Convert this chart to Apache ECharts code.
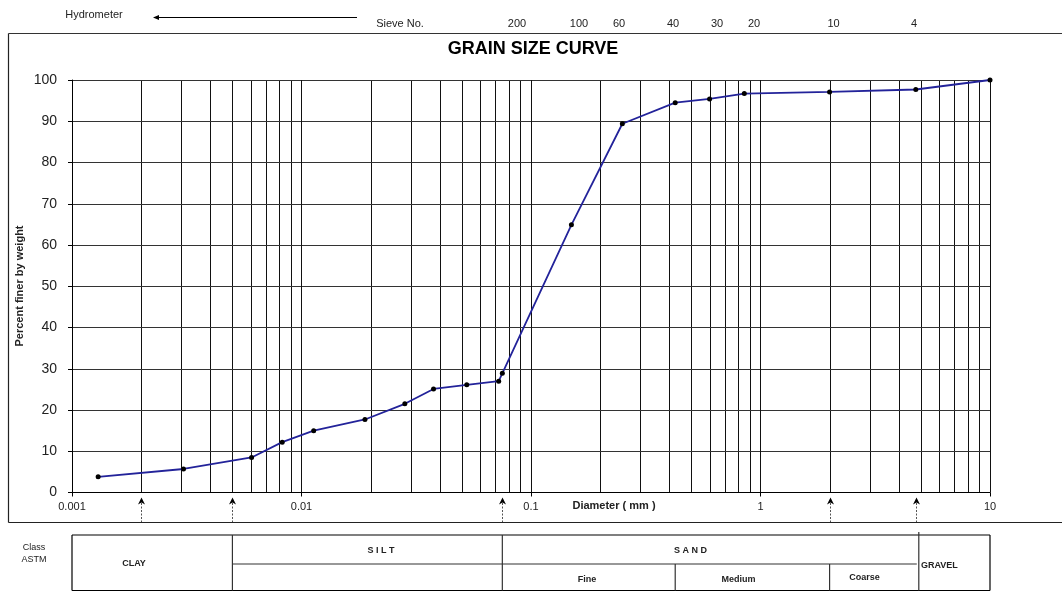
<!DOCTYPE html>
<html><head><meta charset="utf-8">
<script src="https://cdn.jsdelivr.net/npm/echarts@6/dist/echarts.min.js"></script>
<style>html,body{margin:0;padding:0;background:#fff}#c{width:1062px;height:592px}</style>
</head><body><div id="c"></div>
<script>
// ---- data ----
const diameters = [0.0013, 0.00306, 0.00606, 0.00824, 0.0113, 0.0189, 0.0282, 0.0376, 0.0525, 0.0723, 0.075, 0.15, 0.25, 0.425, 0.6, 0.85, 2.0, 4.75, 10];
const percentFiner = [3.8, 5.7, 8.5, 12.2, 15.0, 17.7, 21.5, 25.1, 26.1, 27.0, 28.9, 64.9, 89.4, 94.5, 95.4, 96.7, 97.1, 97.7, 100];
const xTickLabels = ['0.001', '0.01', '0.1', '1', '10'];
const yTickLabels = ['0', '10', '20', '30', '40', '50', '60', '70', '80', '90', '100'];
const sieveNumbers = ['200', '100', '60', '40', '30', '20', '10', '4'];
const arrowDiameters = [0.002, 0.005, 0.075, 2, 4.75];
const boundaryClaySilt = 0.005, boundarySiltSand = 0.075, boundaryFineMedium = 0.425, boundaryMediumCoarse = 2, boundarySandGravel = 4.75;

const FONT = '"Liberation Sans", Arial, sans-serif';
const INK = '#222';
const chart = echarts.init(document.getElementById('c'), null, {renderer: 'canvas'});

chart.setOption({
  animation: false,
  textStyle: {fontFamily: FONT},
  grid: {left: 72, right: 72, top: 80, bottom: 99.5, containLabel: false},
  xAxis: {
    type: 'log', logBase: 10, min: 0.001, max: 10,
    axisLine: {show: true, onZero: false, lineStyle: {color: '#000', width: 1}},
    axisTick: {show: true, length: 4, lineStyle: {color: '#000'}},
    axisLabel: {margin: 9, fontSize: 11, color: INK, fontFamily: FONT,
      formatter: v => { const i = Math.round(Math.log10(v)) + 3; return xTickLabels[i] || ''; }},
    splitLine: {show: true, lineStyle: {color: '#111', width: 1}},
    minorTick: {show: false}, minorSplitLine: {show: false}
  },
  yAxis: {
    type: 'value', min: 0, max: 100, interval: 10,
    axisLine: {show: true, lineStyle: {color: '#000', width: 1}},
    axisTick: {show: true, length: 4, lineStyle: {color: '#000'}},
    axisLabel: {margin: 15, fontSize: 14, color: INK, fontFamily: FONT,
      formatter: v => yTickLabels[Math.round(v / 10)]},
    splitLine: {show: true, lineStyle: {color: '#333', width: 1}}
  },
  series: [{
    type: 'line',
    data: diameters.map((d, i) => [d, percentFiner[i]]),
    symbol: 'circle', symbolSize: 5,
    itemStyle: {color: '#000'},
    lineStyle: {color: '#23239a', width: 1.8},
    z: 5
  }]
});

// ---- annotations ----
const px = v => chart.convertToPixel({xAxisIndex: 0}, v);
const py = v => chart.convertToPixel({yAxisIndex: 0}, v);
const g = [];
const txt = (x, y, s, opt) => g.push({type: 'text', x: x, y: y, silent: true, rotation: (opt && opt.rotation) || 0,
  style: Object.assign({text: s, fill: INK, font: (opt && opt.font) || ('11px ' + FONT), align: 'center', verticalAlign: 'middle'}, (opt && opt.style) || {})});
const line = (x1, y1, x2, y2, stroke, w, dash, z) => g.push({type: 'line', silent: true, z: z || 0,
  shape: {x1: x1, y1: y1, x2: x2, y2: y2}, style: {stroke: stroke || INK, lineWidth: w || 1, lineDash: dash || null}});

// minor log gridlines (2..9 in each decade), placed through the axis scale
const yTopPx = py(100), yBotPx = py(0);
[0.001, 0.01, 0.1, 1].forEach(d => {
  for (let m = 2; m <= 9; m++) {
    const x = Math.round(px(m * d)) + 0.5;
    g.push({type: 'line', silent: true, z: -1, shape: {x1: x, y1: yTopPx, x2: x, y2: yBotPx}, style: {stroke: '#111', lineWidth: 1}});
  }
});

// outer frame
line(8.5, 33.5, 1062, 33.5, '#333', 1.2);
line(8.5, 33.5, 8.5, 522.5, '#222', 1.2);
line(8.5, 522.5, 1062, 522.5, '#222', 1.2);

// title
txt(533, 49, 'GRAIN SIZE CURVE', {font: 'bold 18px ' + FONT, style: {fill: '#000'}});

// y axis title
txt(20, 286, 'Percent finer by weight', {font: 'bold 11px ' + FONT, rotation: Math.PI / 2});

// top labels
txt(94, 15, 'Hydrometer', {font: '11px ' + FONT});
line(158, 17.5, 357, 17.5, '#000', 1.2);
g.push({type: 'polygon', silent: true, shape: {points: [[153, 17.5], [159, 15], [159, 20]]}, style: {fill: '#000'}});
txt(400, 23.5, 'Sieve No.', {font: '11px ' + FONT});
const sievePx = [517, 579, 619, 673, 717, 754, 833.5, 914];
sieveNumbers.forEach((s, i) => txt(sievePx[i], 24, s, {font: '11px ' + FONT}));

// x axis title
txt(614, 505.5, 'Diameter ( mm )', {font: 'bold 11px ' + FONT});

// arrows below axis
arrowDiameters.forEach(d => {
  const x = Math.round(px(d)) + 0.5;
  g.push({type: 'polygon', silent: true, shape: {points: [[x, 497.5], [x - 3.5, 504.5], [x, 502.5], [x + 3.5, 504.5]]}, style: {fill: '#000'}});
  line(x, 503, x, 522, '#555', 1, [2, 1.5]);
});

// classification table
const tTop = 535, tMid = 564, tBot = 590.5, tL = 72, tR = 990;
line(tL, tTop, tR, tTop, '#000', 1.2);
line(tL, tBot, tR, tBot, '#000', 1.2);
line(tL, tTop, tL, tBot, '#000', 1.2);
line(tR, tTop, tR, tBot, '#000', 1.2);
const xCS = px(boundaryClaySilt), xSS = px(boundarySiltSand), xFM = px(boundaryFineMedium), xMC = px(boundaryMediumCoarse), xSG = px(boundarySandGravel) + 3;
line(xCS, tTop, xCS, tBot, '#333', 1.2);
line(xSS, tTop, xSS, tBot, '#333', 1.2);
line(xSG, tTop - 3, xSG, tBot, '#333', 1.2);
line(xCS, tMid, xSG - 2, tMid, '#333', 1.2);
line(xFM, tMid, xFM, tBot, '#333', 1.2);
line(xMC, tMid, xMC, tBot, '#333', 1.2);

const tf = 'bold 9px ' + FONT;
txt(34, 547.5, 'Class', {font: '9px ' + FONT});
txt(34, 560, 'ASTM', {font: '9px ' + FONT});
txt(134, 563.5, 'CLAY', {font: tf});
txt(381, 551, 'S I L T', {font: tf});
txt(690.5, 551, 'S A N D', {font: tf});
txt(587, 580, 'Fine', {font: tf});
txt(738.5, 580, 'Medium', {font: tf});
txt(864.5, 578, 'Coarse', {font: tf});
txt(921, 565.5, 'GRAVEL', {font: tf, style: {align: 'left'}});

chart.setOption({graphic: g});
</script>
</body></html>
